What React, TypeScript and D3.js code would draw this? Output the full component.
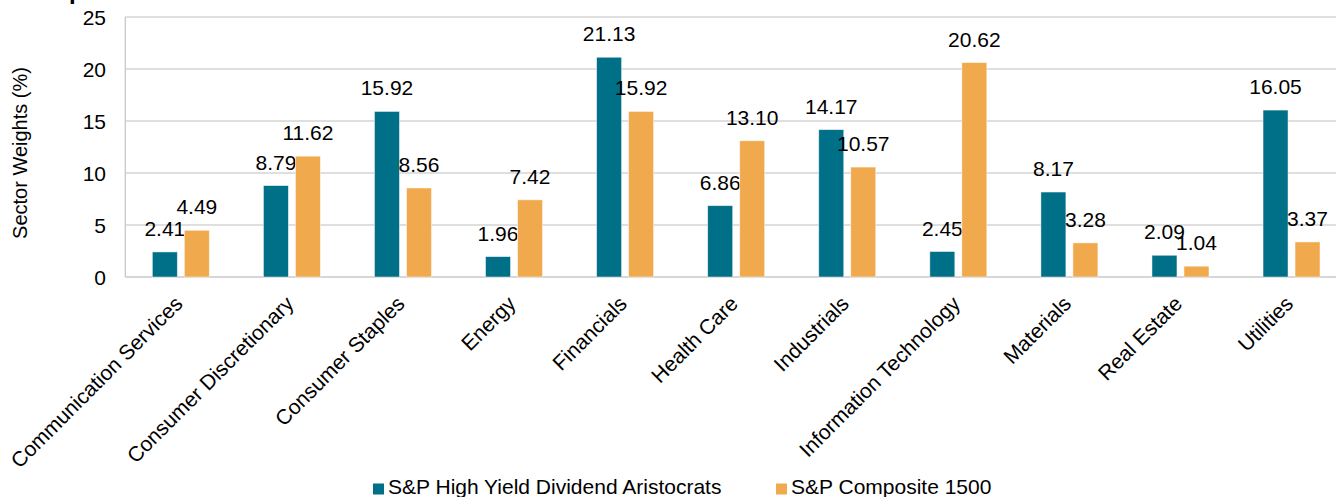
import React from "react";
import * as d3 from "d3";

const categories = [
  "Communication Services",
  "Consumer Discretionary",
  "Consumer Staples",
  "Energy",
  "Financials",
  "Health Care",
  "Industrials",
  "Information Technology",
  "Materials",
  "Real Estate",
  "Utilities",
];
const aristocrats = [2.41, 8.79, 15.92, 1.96, 21.13, 6.86, 14.17, 2.45, 8.17, 2.09, 16.05];
const composite = [4.49, 11.62, 8.56, 7.42, 15.92, 13.1, 10.57, 20.62, 3.28, 1.04, 3.37];
const seriesNames = ["S&P High Yield Dividend Aristocrats", "S&P Composite 1500"];
const yTicks = [0, 5, 10, 15, 20, 25];

const W = 1336;
const H = 497;
const FONT = "'Liberation Sans', Arial, sans-serif";
const COLORS = ["#006F88", "#F1A94E"];

export default function App() {
  const left = 125.3;
  const step = 111.07;
  const right = left + step * categories.length;
  const top = 17;
  const bottom = 277;

  const x = d3.scaleBand<string>().domain(categories).range([left, right]).paddingInner(0).paddingOuter(0);
  const y = d3.scaleLinear().domain([0, 25]).range([bottom, top]);
  const barW = 25;
  const gap = 7;
  const series = [aristocrats, composite];

  return (
    <svg
      width={W}
      height={H}
      style={{ position: "absolute", left: 0, top: 0, background: "#fff" }}
      fontFamily={FONT}
    >
      {/* title descender peeking in at the top edge */}
      <text x={69} y={-1} fontSize={24} fontWeight="bold" fill="#000">p</text>

      {/* gridlines */}
      {yTicks.map((t) => (
        <line
          key={t}
          x1={left}
          x2={right}
          y1={y(t)}
          y2={y(t)}
          stroke={t === 0 ? "#c8c8c8" : "#d4d4d4"}
          strokeWidth={1.3}
        />
      ))}
      <line x1={left} x2={left} y1={top} y2={bottom} stroke="#c8c8c8" strokeWidth={1.3} />

      {/* y tick labels */}
      {yTicks.map((t) => (
        <text key={t} x={106} y={y(t)} dy="0.38em" textAnchor="end" fontSize={21} fill="#000">
          {t}
        </text>
      ))}
      <text
        transform={`translate(27, 153) rotate(-90)`}
        textAnchor="middle"
        fontSize={20}
        fill="#000"
      >
        Sector Weights (%)
      </text>

      {/* bars and value labels */}
      {categories.map((c) => {
        const cx = (x(c) as number) + x.bandwidth() / 2;
        return (
          <g key={c}>
            {series.map((s, si) => {
              const v = s[categories.indexOf(c)];
              const bx = si === 0 ? cx - gap / 2 - barW : cx + gap / 2;
              return (
                <g key={si}>
                  <rect
                    x={bx}
                    y={y(v)}
                    width={barW}
                    height={bottom - y(v)}
                    fill={COLORS[si]}
                    stroke="#ffffff"
                    strokeOpacity={0.6}
                    strokeWidth={0.8}
                  />
                  <text
                    x={bx + barW / 2}
                    y={y(v) - 16}
                    textAnchor="middle"
                    fontSize={21}
                    fill="#000"
                  >
                    {v.toFixed(2)}
                  </text>
                </g>
              );
            })}
            <text
              transform={`translate(${cx + 3}, ${bottom + 28}) rotate(-45)`}
              textAnchor="end"
              fontSize={21}
              fill="#000"
            >
              {c}
            </text>
          </g>
        );
      })}

      {/* legend */}
      {seriesNames.map((n, i) => {
        const lx = i === 0 ? 373 : 776;
        return (
          <g key={n}>
            <rect x={lx} y={483.5} width={11} height={11} fill={COLORS[i]} />
            <text x={lx + 15} y={494} fontSize={21} fill="#000">
              {n}
            </text>
          </g>
        );
      })}
    </svg>
  );
}
